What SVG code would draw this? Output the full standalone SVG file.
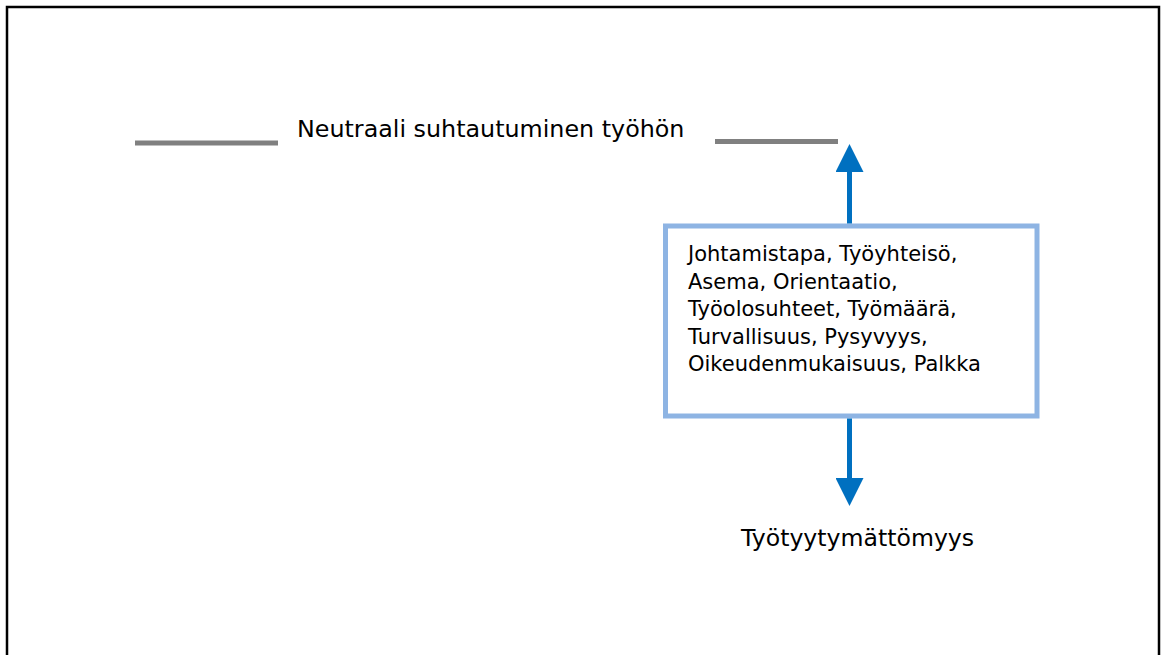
<svg xmlns="http://www.w3.org/2000/svg" width="1161" height="655" viewBox="0 0 1161 655">
  <style>
    .t { font-family: "DejaVu Sans", "Liberation Sans", sans-serif; fill: #000; }
    .gray { stroke: #808080; stroke-width: 5; }
    .conn { stroke: #0070C0; stroke-width: 5; fill: none; }
  </style>
  <defs>
    <marker id="ah" viewBox="0 0 10 10" refX="0" refY="5" markerWidth="5.6" markerHeight="5.6" orient="auto" markerUnits="strokeWidth">
      <path d="M0,0 L10,5 L0,10 z" fill="#0070C0"/>
    </marker>
  </defs>
  <rect x="0" y="0" width="1161" height="655" fill="#fff"/>
  <rect id="frame" x="7" y="7" width="1152" height="700" fill="none" stroke="#000" stroke-width="2.5"/>

  <g id="neutral">
    <line class="gray" x1="135" y1="143" x2="278" y2="143"/>
    <line class="gray" x1="715" y1="141.5" x2="838" y2="141.5"/>
    <text class="t" x="297" y="137" font-size="23.8">Neutraali suhtautuminen työhön</text>
  </g>

  <g id="factors">
    <rect x="665.5" y="226" width="371.5" height="190" fill="#fff" stroke="#8EB4E3" stroke-width="5"/>
    <text class="t" font-size="21">
      <tspan x="688" y="261">Johtamistapa, Työyhteisö,</tspan>
      <tspan x="688" y="288.5">Asema, Orientaatio,</tspan>
      <tspan x="688" y="316">Työolosuhteet, Työmäärä,</tspan>
      <tspan x="688" y="343.5">Turvallisuus, Pysyvyys,</tspan>
      <tspan x="688" y="371">Oikeudenmukaisuus, Palkka</tspan>
    </text>
  </g>

  <g id="dissatisfaction">
    <text class="t" x="741" y="546" font-size="23.6">Työtyytymättömyys</text>
  </g>

  <g id="connectors">
    <line class="conn" x1="849.5" y1="223.5" x2="849.5" y2="172" marker-end="url(#ah)"/>
    <line class="conn" x1="849.5" y1="418.5" x2="849.5" y2="478" marker-end="url(#ah)"/>
  </g>
</svg>
